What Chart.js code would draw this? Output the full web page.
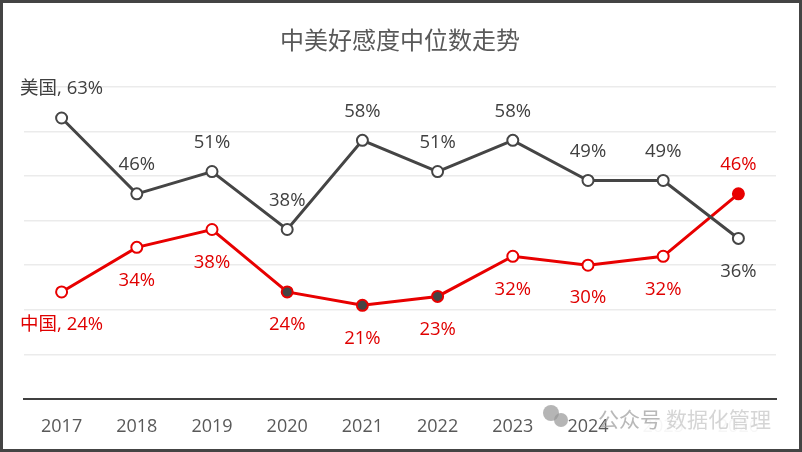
<!DOCTYPE html>
<html><head><meta charset="utf-8">
<script src="https://cdn.jsdelivr.net/npm/chart.js@4/dist/chart.umd.min.js"></script>
<style>
html,body{margin:0;padding:0;background:#fff;}
#frame{width:802px;height:452px;box-sizing:border-box;border:3px solid #444;position:relative;background:#fff;overflow:hidden;}
canvas{display:block;}
</style></head><body>
<div id="frame"><canvas id="c" width="796" height="446"></canvas></div>
<script>
const years = ['2017','2018','2019','2020','2021','2022','2023','2024','2025','2026'];
const usName = '美国';
const cnName = '中国';
const usValues = [63, 46, 51, 38, 58, 51, 58, 49, 49, 36];
const cnValues = [24, 34, 38, 24, 21, 23, 32, 30, 32, 46];
const cnDarkPoints = ['2020','2021','2022'];
const titleText = '中美好感度中位数走势';
const watermarkA = '公众号';
const watermarkB = '数据化管理';

const GRAY = '#454545';
const RED = '#e80000';
const FONT = '"Open Sans", "Noto Sans CJK SC", sans-serif';

const cnFill = years.map((y, i) => i === years.length - 1 ? RED : (cnDarkPoints.includes(y) ? '#444444' : '#ffffff'));

const labelPlugin = {
  id: 'valueLabels',
  afterDatasetsDraw(chart) {
    const ctx = chart.ctx;
    ctx.save();
    ctx.font = '18.5px ' + FONT;
    ctx.textAlign = 'center';
    ctx.textBaseline = 'middle';
    const sets = chart.data.datasets;
    sets.forEach((ds, di) => {
      const meta = chart.getDatasetMeta(di);
      const other = sets[1 - di].data;
      ctx.fillStyle = ds.labelColor;
      meta.data.forEach((pt, j) => {
        const v = ds.data[j];
        const above = v >= other[j];
        const y = above ? pt.y - 29 : pt.y + 33;
        const txt = j === 0 ? ds.label + ', ' + v + '%' : v + '%';
        ctx.fillText(txt, pt.x, y);
      });
    });
    ctx.restore();
  }
};

const watermarkPlugin = {
  id: 'watermark',
  afterDraw(chart) {
    const ctx = chart.ctx;
    const W = chart.width, H = chart.height;
    ctx.save();
    ctx.fillStyle = 'rgba(255,255,255,0.95)';
    ctx.fillRect(W - 162, H - 36, 156, 30);
    ctx.fillStyle = 'rgba(150,150,150,0.7)';
    ctx.beginPath(); ctx.arc(W - 248, H - 36, 8, 0, Math.PI * 2); ctx.fill();
    ctx.beginPath(); ctx.arc(W - 238, H - 29, 7, 0, Math.PI * 2); ctx.fill();
    ctx.font = '21px "Noto Sans CJK SC", sans-serif';
    ctx.textAlign = 'left';
    ctx.textBaseline = 'middle';
    ctx.fillStyle = 'rgba(160,160,160,0.75)';
    ctx.fillText(watermarkA, W - 201, H - 30);
    ctx.fillStyle = 'rgba(195,195,195,0.7)';
    ctx.fillText(watermarkB, W - 133, H - 30);
    ctx.restore();
  }
};

new Chart(document.getElementById('c'), {
  type: 'line',
  data: {
    labels: years,
    datasets: [
      {
        label: usName, data: usValues, borderColor: GRAY, borderWidth: 3,
        pointRadius: 5.5, pointHoverRadius: 5.5, pointBorderWidth: 2,
        pointBackgroundColor: '#ffffff', pointBorderColor: GRAY,
        labelColor: '#404040', tension: 0
      },
      {
        label: cnName, data: cnValues, borderColor: RED, borderWidth: 3,
        pointRadius: 5.5, pointHoverRadius: 5.5, pointBorderWidth: 2,
        pointBackgroundColor: cnFill, pointBorderColor: RED,
        labelColor: '#e00000', tension: 0
      }
    ]
  },
  options: {
    responsive: false,
    animation: false,
    devicePixelRatio: 1,
    layout: { padding: { left: 21, right: 23, top: 0, bottom: 0 } },
    plugins: {
      legend: { display: false },
      tooltip: { enabled: false },
      title: {
        display: true, text: titleText, color: '#595959',
        font: { family: '"Noto Sans CJK SC", sans-serif', size: 24, weight: 'normal' },
        padding: { top: 22, bottom: 33 }
      }
    },
    scales: {
      x: {
        offset: true,
        grid: { display: false, drawTicks: false },
        border: { display: true, color: '#404040', width: 2 },
        ticks: { color: '#595959', font: { family: FONT, size: 18 }, padding: 17, maxRotation: 0, autoSkip: false },
        afterFit(axis) { axis.height = 50; }
      },
      y: {
        min: 0, max: 70,
        ticks: { display: false, stepSize: 10 },
        grid: { color: '#ebebeb', lineWidth: 1.5, drawTicks: false },
        border: { display: false },
        afterFit(axis) { axis.width = 0; }
      }
    }
  },
  plugins: [labelPlugin, watermarkPlugin]
});
</script>
</body></html>
